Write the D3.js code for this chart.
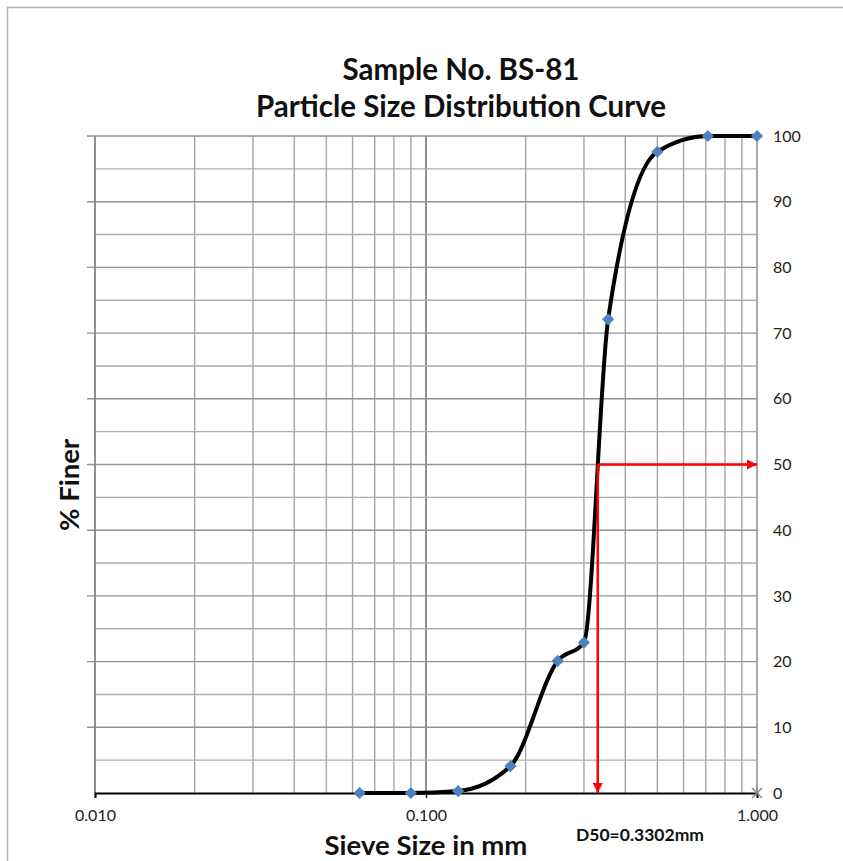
<!DOCTYPE html>
<html>
<head>
<meta charset="utf-8">
<script src="https://cdn.jsdelivr.net/npm/d3@7"></script>
<style>
  body { margin: 0; background: #fff; }
  svg { display: block; font-family: Lato, "Open Sans", sans-serif; }
</style>
</head>
<body>
<svg width="843" height="861"></svg>
<script>
const sieveSizes = [0.063, 0.09, 0.125, 0.18, 0.25, 0.3, 0.355, 0.5, 0.71, 1.0];
const percentFiner = [0, 0, 0.3, 4.1, 20.1, 22.9, 72.1, 97.6, 100, 100];
const xTickValues = [0.01, 0.1, 1];
const yTickValues = [0, 10, 20, 30, 40, 50, 60, 70, 80, 90, 100];
const d50 = 0.3302;
const d50Percent = 50;

const svg = d3.select('svg');
const width = +svg.attr('width');
const height = +svg.attr('height');

const margin = {top: 136, right: 86, bottom: 68, left: 95};
const innerWidth = width - margin.left - margin.right;
const innerHeight = height - margin.top - margin.bottom;

const data = sieveSizes.map((s, i) => ({size: s, finer: percentFiner[i]}));

const xScale = d3.scaleLog().domain([0.01, 1]).range([0, innerWidth]);
const yScale = d3.scaleLinear().domain([0, 100]).range([innerHeight, 0]);

// outer chart frame (only top and left edges are inside the picture)
svg.append('path')
    .attr('d', `M7.5,${height}V7.5H${width}`)
    .attr('fill', 'none').attr('stroke', '#b4b4b4').attr('stroke-width', 1.5);

// arrow marker
svg.append('defs').append('marker')
    .attr('id', 'arrow')
    .attr('viewBox', '0 0 10 10')
    .attr('refX', 10).attr('refY', 5)
    .attr('markerWidth', 4.5).attr('markerHeight', 4)
    .attr('markerUnits', 'strokeWidth')
    .attr('orient', 'auto')
  .append('path')
    .attr('d', 'M0,0L10,5L0,10Z')
    .attr('fill', '#ff0000');

const g = svg.append('g')
    .attr('transform', `translate(${margin.left},${margin.top})`);

// grid: vertical lines at every log step
const minorX = [];
[0.01, 0.1].forEach(dec => { for (let k = 1; k <= 10; k++) minorX.push(dec * k); });
g.append('g').selectAll('line').data(minorX).enter().append('line')
    .attr('x1', d => xScale(d)).attr('x2', d => xScale(d))
    .attr('y1', 0).attr('y2', innerHeight)
    .attr('stroke', d => Math.abs(Math.log10(d) - Math.round(Math.log10(d))) < 1e-9 ? '#868686' : '#a6a6a6')
    .attr('stroke-width', 1.4);

// grid: horizontal lines every 5 %
const gridY = d3.range(5, 101, 5);
g.append('g').selectAll('line').data(gridY).enter().append('line')
    .attr('x1', d => d % 10 === 0 ? -8 : 0).attr('x2', innerWidth)
    .attr('y1', d => yScale(d)).attr('y2', d => yScale(d))
    .attr('stroke', d => d % 10 === 0 ? '#929292' : '#adadad')
    .attr('stroke-width', 1.4);

// left axis line
g.append('line')
    .attr('x1', 0).attr('x2', 0).attr('y1', 0).attr('y2', innerHeight)
    .attr('stroke', '#868686').attr('stroke-width', 1.4);

// x axis
const xAxisG = g.append('g')
    .attr('transform', `translate(0,${innerHeight})`)
    .call(d3.axisBottom(xScale).tickValues(xTickValues).tickFormat(d3.format('.3f')).tickSize(5).tickPadding(12));
xAxisG.select('.domain').attr('stroke', '#000').attr('stroke-width', 2);
xAxisG.selectAll('.tick line').attr('stroke', '#000').attr('stroke-width', 1.3);
xAxisG.selectAll('.tick text').attr('font-size', 16).attr('fill', '#222').attr('font-family', 'Lato, sans-serif');

// y axis labels on the right
const yAxisG = g.append('g')
    .attr('transform', `translate(${innerWidth},0)`)
    .call(d3.axisRight(yScale).tickValues(yTickValues).tickSize(0).tickPadding(16));
yAxisG.select('.domain').remove();
yAxisG.selectAll('.tick text').attr('font-size', 16).attr('fill', '#222').attr('font-family', 'Lato, sans-serif');

// curve
const line = d3.line()
    .x(d => xScale(d.size))
    .y(d => yScale(d.finer))
    .curve(d3.curveMonotoneX);
g.append('path')
    .datum(data)
    .attr('d', line)
    .attr('fill', 'none')
    .attr('stroke', '#000')
    .attr('stroke-width', 4);

// markers
g.selectAll('.pt').data(data).enter().append('path')
    .attr('class', 'pt')
    .attr('transform', d => `translate(${xScale(d.size)},${yScale(d.finer)})`)
    .attr('d', d3.symbol().type(d3.symbolDiamond2).size(95))
    .attr('fill', '#4f81bd');

// grey x marker at (1, 0)
g.append('path')
    .attr('transform', `translate(${xScale(1)},${yScale(0)})`)
    .attr('d', 'M-5,-5L5,5M-5,5L5,-5M0,-6L0,0')
    .attr('stroke', '#8c8c8c').attr('stroke-width', 1.6).attr('fill', 'none');

// D50 arrows
g.append('line')
    .attr('x1', xScale(d50)).attr('x2', xScale(1))
    .attr('y1', yScale(d50Percent)).attr('y2', yScale(d50Percent))
    .attr('stroke', '#ff0000').attr('stroke-width', 2.5)
    .attr('marker-end', 'url(#arrow)');
g.append('line')
    .attr('x1', xScale(d50)).attr('x2', xScale(d50))
    .attr('y1', yScale(d50Percent)).attr('y2', yScale(0))
    .attr('stroke', '#ff0000').attr('stroke-width', 2.5)
    .attr('marker-end', 'url(#arrow)');

g.append('text')
    .attr('x', 640 - margin.left).attr('y', innerHeight + 48)
    .attr('text-anchor', 'middle')
    .attr('font-size', 17.5).attr('font-weight', 'bold').attr('fill', '#111')
    .text('D50=0.3302mm');

// titles
svg.append('text')
    .attr('x', 461).attr('y', 80)
    .attr('text-anchor', 'middle')
    .attr('font-size', 29.5).attr('font-weight', 'bold').attr('fill', '#111')
    .text('Sample No. BS-81');
svg.append('text')
    .attr('x', 461).attr('y', 117)
    .attr('text-anchor', 'middle')
    .attr('font-size', 29.5).attr('font-weight', 'bold').attr('fill', '#111')
    .text('Particle Size Distribution Curve');

svg.append('text')
    .attr('x', 426).attr('y', 855)
    .attr('text-anchor', 'middle')
    .attr('font-size', 27.5).attr('font-weight', 'bold').attr('fill', '#111')
    .text('Sieve Size in mm');

svg.append('text')
    .attr('transform', 'translate(79,485) rotate(-90)')
    .attr('text-anchor', 'middle')
    .attr('font-size', 27.5).attr('font-weight', 'bold').attr('fill', '#111')
    .text('% Finer');
</script>
</body>
</html>
